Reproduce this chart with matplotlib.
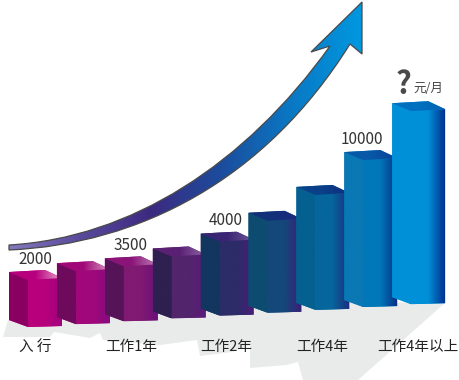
import numpy as np
import matplotlib
matplotlib.use("Agg")
import matplotlib.pyplot as plt
from matplotlib.colors import LinearSegmentedColormap
from matplotlib.patches import PathPatch, Polygon
from matplotlib.path import Path

plt.rcParams['font.family'] = ['Noto Sans CJK SC', 'DejaVu Sans']

categories = ["入 行", "工作1年", "工作2年", "工作4年", "工作4年以上"]
category_bar = [0, 2, 4, 6, 8]
value_labels = ["2000", "3500", "4000", "10000"]
value_bar = [0, 2, 4, 7]
value_nudge = [0, 0, -1, -8]
bar_heights = [48, 54, 56, 63, 75, 93, 116, 148, 194]

side_colors = ["#8a0062", "#6e0a5c", "#561458", "#2e2050", "#12365f",
               "#0d4c70", "#056090", "#0a78b4", "#0090d8"]
front_left = ["#b8007c", "#a0087a", "#801a72", "#52256c", "#2c2c68",
              "#14487a", "#06669c", "#0078b8", "#0090d8"]
front_right = ["#a0007e", "#860a80", "#6c107c", "#5c1a7c", "#4a1c78",
               "#3a2078", "#1c2e80", "#083088", "#003090"]
top_left = ["#b8007e", "#a00878", "#8a1478", "#5a2074", "#3a2474",
            "#12307a", "#0a4088", "#0858a8", "#0070c0"]
top_right = ["#e8a0c8", "#d898c4", "#c080b8", "#9068a8", "#705898",
             "#202880", "#102c80", "#0a4098", "#0060b0"]

STEP = 47.9
LEFT = 9
SIDE_W = 19
FRONT_W = 34
BASE = 326
DROP = 2.85

fig = plt.figure(figsize=(4.6, 3.8), dpi=100)
ax = fig.add_axes([0, 0, 1, 1])
ax.axis("off")


def gradient_poly(pts, colors, zorder):
    # horizontal gradient clipped to a polygon
    xs = [p[0] for p in pts]
    ys = [p[1] for p in pts]
    cmap = LinearSegmentedColormap.from_list("g", colors)
    im = ax.imshow(np.linspace(0, 1, 256).reshape(1, -1), cmap=cmap, aspect="auto",
                   extent=(min(xs), max(xs), max(ys), min(ys)), zorder=zorder,
                   interpolation="bilinear")
    patch = Polygon(pts, closed=True, transform=ax.transData, fc="none", ec="none")
    ax.add_patch(patch)
    im.set_clip_path(patch)


# shadow on the floor
shadow = [(8, 320), (3, 337), (50, 337), (54, 332), (90, 338), (100, 333), (103, 340),
          (160, 345), (197, 340), (200, 356), (232, 352), (250, 345), (250, 368),
          (287, 365), (298, 362), (303, 380), (358, 380), (445, 303), (200, 300)]
ax.add_patch(Polygon(shadow, closed=True, fc="#e9eaea", ec="none", zorder=1))

for i, h in enumerate(bar_heights):
    x0 = LEFT + STEP * i
    xm = x0 + SIDE_W
    x1 = xm + FRONT_W
    yb = BASE - DROP * i
    yt = yb - h
    side = [(x0, yt - 6), (xm, yt + 2), (xm, yb + 1), (x0, yb - 6)]
    front = [(xm, yt + 2), (x1, yt), (x1, yb), (xm, yb + 1)]
    top = [(x0, yt - 6), (x0 + 36, yt - 8), (x1, yt), (xm, yt + 2)]
    z = 2 + i * 0.1
    # backing shape so the faces do not show white seams
    back = [(x0, yt - 6), (x0 + 36, yt - 8), (x1, yt), (x1, yb), (xm, yb + 1), (x0, yb - 6)]
    ax.add_patch(Polygon(back, closed=True, fc=front_left[i], ec="none", zorder=z - 0.01))
    gradient_poly(side, [side_colors[i], side_colors[i]], z)
    gradient_poly(front, [front_left[i], front_left[i], front_right[i]], z + 0.01)
    gradient_poly(top, [top_left[i], top_left[i], top_right[i]], z + 0.02)

# rising arrow
codes = [Path.MOVETO, Path.CURVE4, Path.CURVE4, Path.CURVE4,
         Path.LINETO, Path.LINETO, Path.LINETO, Path.LINETO,
         Path.CURVE4, Path.CURVE4, Path.CURVE4, Path.CLOSEPOLY]
verts = [(9, 245), (130, 238), (245, 165), (330, 46),
         (311, 52), (362, 2), (362, 54), (350, 44),
         (265, 180), (140, 244), (9, 250), (9, 245)]
arrow_path = Path(verts, codes)
cmap = LinearSegmentedColormap.from_list(
    "arrow", ["#8478bc", "#5a4a9c", "#3c2a80", "#1c4c9c", "#0a78c4", "#0098e0"])
im = ax.imshow(np.linspace(0, 1, 256).reshape(1, -1), cmap=cmap, aspect="auto",
               extent=(9, 362, 250, 2), zorder=5, interpolation="bilinear")
outline = PathPatch(arrow_path, fc="none", ec="#4a4a4a", lw=0.9, zorder=6)
ax.add_patch(outline)
im.set_clip_path(outline)

# labels
for name, b in zip(categories, category_bar):
    ax.text(LEFT + STEP * b + 26, 347, name, ha="center", va="center",
            fontsize=10.5, color="#222222", zorder=7)
for name, b, dx in zip(value_labels, value_bar, value_nudge):
    y = BASE - DROP * b - bar_heights[b] - 19
    ax.text(LEFT + STEP * b + 26 + dx, y, name, ha="center", va="center",
            fontsize=11, color="#333333", zorder=7)
ax.text(403, 85, "?", ha="center", va="center", fontsize=22, fontweight="bold",
        color="#4a4a4a", zorder=7)
ax.text(428, 89, "元/月", ha="center", va="center", fontsize=9, color="#444444", zorder=7)

ax.set_xlim(0, 460)
ax.set_ylim(380, 0)
fig.savefig("out.png", dpi=100, facecolor="white")
